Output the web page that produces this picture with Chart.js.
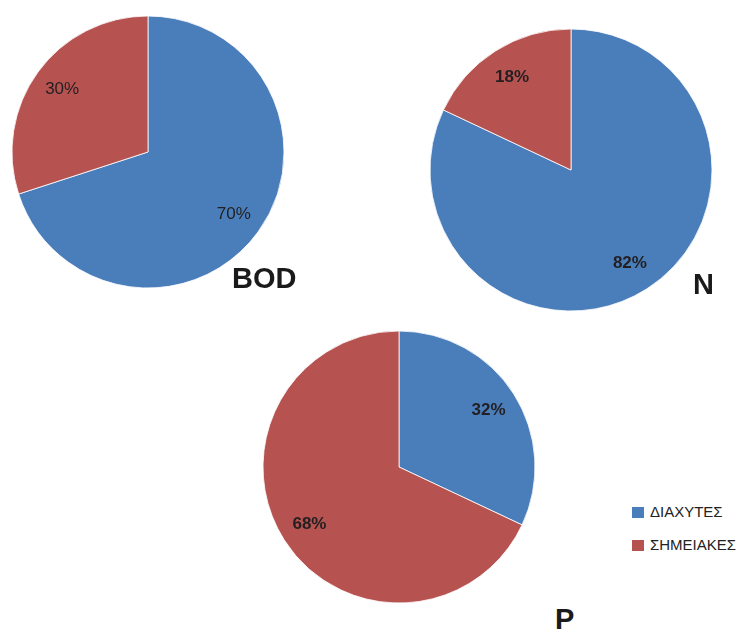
<!DOCTYPE html>
<html>
<head>
<meta charset="utf-8">
<script src="https://cdn.jsdelivr.net/npm/chart.js@4/dist/chart.umd.min.js"></script>
<style>
  html, body { margin: 0; padding: 0; background: #fff; }
  body { width: 747px; height: 631px; position: relative; overflow: hidden; font-family: "Liberation Sans", Arial, sans-serif; }
  .pie { position: absolute; }
  .name { position: absolute; font-weight: bold; font-size: 29px; line-height: 30px; color: #1a1a1a; }
  #legend { position: absolute; left: 632px; top: 503px; font-size: 15px; color: #222; }
  #legend .row { height: 33px; display: flex; align-items: flex-start; }
  #legend .box { width: 12px; height: 11px; margin-top: 4px; margin-right: 6px; }
</style>
</head>
<body>
<canvas id="bodChart" class="pie" width="280" height="280" style="left:8px;top:12px;width:280px;height:280px"></canvas>
<canvas id="nChart" class="pie" width="286" height="286" style="left:428px;top:27px;width:286px;height:286px"></canvas>
<canvas id="pChart" class="pie" width="284" height="284" style="left:257px;top:325px;width:284px;height:284px"></canvas>
<div class="name" style="left:232px;top:263px">BOD</div>
<div class="name" style="left:693px;top:269px">N</div>
<div class="name" style="left:555px;top:604px">P</div>
<div id="legend"></div>
<script>
// Data
const categories = ['ΔΙΑΧΥΤΕΣ', 'ΣΗΜΕΙΑΚΕΣ'];
const bodValues = [70, 30];
const nValues = [82, 18];
const pValues = [32, 68];
const colors = ['#4A7EBB', '#B65351'];

// Percent labels inside the slices
const sliceLabels = {
    id: 'sliceLabels',
    afterDatasetsDraw(chart, args, opts) {
        const ctx = chart.ctx;
        const meta = chart.getDatasetMeta(0);
        const data = chart.data.datasets[0].data;
        const total = data.reduce((a, b) => a + b, 0);
        ctx.save();
        ctx.font = opts.font;
        ctx.fillStyle = '#231f20';
        ctx.textAlign = 'center';
        ctx.textBaseline = 'middle';
        meta.data.forEach((arc, i) => {
            const p = arc.getProps(['x', 'y', 'startAngle', 'endAngle', 'outerRadius'], true);
            const mid = (p.startAngle + p.endAngle) / 2;
            const r = p.outerRadius * 0.78;
            ctx.fillText(Math.round(data[i] / total * 100) + '%', p.x + Math.cos(mid) * r, p.y + Math.sin(mid) * r);
        });
        ctx.restore();
    }
};

function makePie(id, values, radius, font) {
    const ctx = document.getElementById(id).getContext('2d');
    return new Chart(ctx, {
        type: 'pie',
        data: {
            labels: categories,
            datasets: [{
                data: values,
                backgroundColor: colors,
                borderColor: 'rgba(255,255,255,0.8)',
                borderWidth: 1,
                hoverOffset: 0
            }]
        },
        options: {
            responsive: false,
            animation: false,
            radius: radius,
            layout: { padding: 0 },
            plugins: {
                legend: { display: false },
                tooltip: { enabled: false },
                sliceLabels: { font: font }
            }
        },
        plugins: [sliceLabels]
    });
}

makePie('bodChart', bodValues, 136, '17px "Liberation Sans", Arial, sans-serif');
makePie('nChart', nValues, 141, 'bold 17px "Liberation Sans", Arial, sans-serif');
makePie('pChart', pValues, 136, 'bold 17px "Liberation Sans", Arial, sans-serif');

// Legend
const legend = document.getElementById('legend');
categories.forEach((c, i) => {
    const row = document.createElement('div');
    row.className = 'row';
    row.innerHTML = '<span class="box" style="background:' + colors[i] + '"></span><span>' + c + '</span>';
    legend.appendChild(row);
});
</script>
</body>
</html>
